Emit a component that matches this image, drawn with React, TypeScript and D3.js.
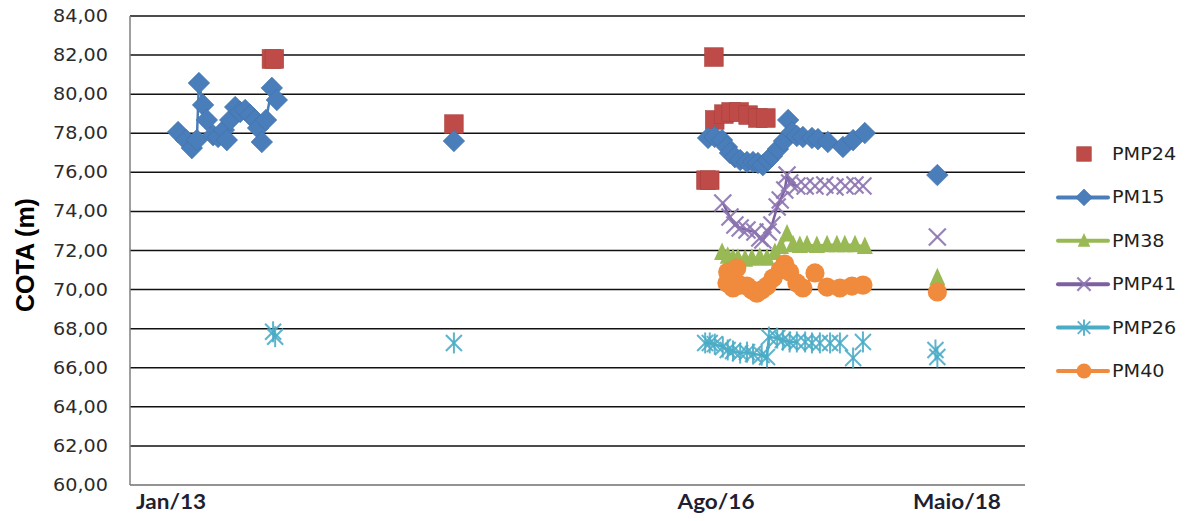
import React from 'react';
import * as d3 from 'd3';

// One reading: [date, elevation in metres]; null marks a blank row (breaks the line).
type Reading = [string, number] | null;

const X_TICK_DATES = ['2013-01-01', '2016-08-01', '2018-05-01'];
const X_TICK_LABELS = ['Jan/13', 'Ago/16', 'Maio/18'];
const Y_TICKS = [60, 62, 64, 66, 68, 70, 72, 74, 76, 78, 80, 82, 84];
const Y_TITLE = 'COTA (m)';

const PMP24: Reading[] = [
  ['2013-08-30', 81.8], null, ['2013-09-06', 81.8], null,
  ['2014-11-11', 78.47], null,
  ['2016-07-08', 75.6], null, ['2016-07-17', 75.6], null, ['2016-07-27', 81.9], null,
  ['2016-07-29', 78.68], null, ['2016-08-22', 78.98], null, ['2016-09-10', 79.09], null,
  ['2016-10-01', 79.09], null, ['2016-10-25', 78.93], null, ['2016-11-20', 78.78], null,
  ['2016-12-11', 78.78],
];

const PM15: Reading[] = [
  ['2013-01-18', 78.06], ['2013-02-06', 77.65], ['2013-02-20', 77.24], ['2013-03-04', 77.65],
  ['2013-03-09', 80.57], ['2013-03-19', 79.45], ['2013-03-28', 78.68], ['2013-04-12', 77.9],
  ['2013-04-24', 77.81], ['2013-05-08', 78.17], ['2013-05-15', 77.65], ['2013-05-23', 78.68],
  ['2013-06-04', 79.34], ['2013-06-16', 79.09], ['2013-06-28', 79.19], ['2013-07-10', 78.93],
  ['2013-07-22', 78.68], ['2013-07-29', 78.27], ['2013-08-07', 77.55], ['2013-08-17', 78.68],
  ['2013-08-31', 80.32], ['2013-09-12', 79.7],
  null,
  ['2014-11-11', 77.6],
  null,
  ['2016-07-13', 77.76], ['2016-07-29', 77.81], ['2016-08-17', 77.65], ['2016-08-30', 77.3],
  ['2016-09-07', 76.99], ['2016-09-20', 76.78], ['2016-10-04', 76.63], ['2016-10-22', 76.53],
  ['2016-11-07', 76.53], ['2016-11-20', 76.48], ['2016-12-03', 76.37], ['2016-12-17', 76.63],
  ['2016-12-27', 76.83], ['2017-01-12', 77.19], ['2017-01-28', 77.6], ['2017-02-08', 78.68],
  ['2017-02-18', 78.06], ['2017-03-03', 77.86], ['2017-03-19', 77.81], ['2017-04-12', 77.76],
  ['2017-04-28', 77.7], ['2017-05-24', 77.55], ['2017-07-03', 77.3], ['2017-07-30', 77.65],
  ['2017-08-30', 78.01],
  null,
  ['2018-03-10', 75.86],
];

const PM38: Reading[] = [
  ['2016-08-17', 71.9], ['2016-09-01', 71.7], ['2016-09-15', 71.6], ['2016-09-28', 71.6],
  ['2016-10-17', 71.55], ['2016-11-04', 71.6], ['2016-11-25', 71.65], ['2016-12-14', 71.6],
  ['2017-01-04', 71.9], ['2017-01-20', 72.2], ['2017-02-05', 72.84], ['2017-02-21', 72.3],
  ['2017-03-11', 72.25], ['2017-03-30', 72.3], ['2017-04-25', 72.25], ['2017-05-22', 72.3],
  ['2017-06-17', 72.3], ['2017-07-08', 72.3], ['2017-08-04', 72.3], ['2017-08-30', 72.2],
  null,
  ['2018-03-10', 70.6],
];

const PMP41: Reading[] = [
  ['2016-08-19', 74.43], ['2016-09-07', 73.71], ['2016-09-20', 73.3], ['2016-10-04', 73.15],
  ['2016-10-22', 73.05], ['2016-11-12', 72.95], ['2016-11-25', 72.64], ['2016-12-03', 72.54],
  ['2016-12-17', 72.95], ['2016-12-27', 73.3], ['2017-01-10', 74.23], ['2017-01-18', 74.58],
  ['2017-01-30', 75.1], ['2017-02-05', 75.86], ['2017-02-12', 75.45], ['2017-03-03', 75.3],
  null, ['2017-03-25', 75.3], null, ['2017-04-20', 75.3], null, ['2017-05-16', 75.35],
  null, ['2017-06-12', 75.25], null, ['2017-07-09', 75.3], null, ['2017-08-04', 75.35],
  null, ['2017-08-25', 75.3],
  null,
  ['2018-03-10', 72.69],
];

const PMP26: Reading[] = [
  ['2013-09-03', 67.84], ['2013-09-08', 67.59],
  null,
  ['2014-11-11', 67.27],
  null,
  ['2016-07-06', 67.27], ['2016-07-17', 67.27], ['2016-07-29', 67.21], ['2016-08-19', 67.06],
  ['2016-09-01', 66.91], ['2016-09-15', 66.86], ['2016-10-04', 66.75], ['2016-10-22', 66.8],
  ['2016-11-07', 66.7], ['2016-11-30', 66.65], ['2016-12-14', 66.55], ['2016-12-19', 67.57],
  ['2017-01-10', 67.52], ['2017-01-25', 67.42], ['2017-02-12', 67.32], ['2017-03-03', 67.32],
  null, ['2017-03-25', 67.32], null, ['2017-04-12', 67.27], null, ['2017-05-03', 67.27],
  null, ['2017-05-30', 67.27], null, ['2017-06-25', 67.27], null, ['2017-07-30', 66.5],
  null, ['2017-08-25', 67.32],
  null, ['2018-03-05', 66.91], null, ['2018-03-10', 66.55],
];

const PM40: Reading[] = [
  ['2016-08-30', 70.34], ['2016-09-01', 70.9], ['2016-09-15', 70.08], ['2016-09-25', 71.1],
  ['2016-10-04', 70.23], ['2016-10-22', 70.18], ['2016-11-04', 69.98], ['2016-11-17', 69.82],
  ['2016-11-30', 69.98], ['2016-12-14', 70.18], ['2016-12-30', 70.59], ['2017-01-18', 71.0],
  ['2017-01-30', 71.31], ['2017-02-12', 70.9], ['2017-03-03', 70.34], ['2017-03-19', 70.08],
  ['2017-04-20', 70.85], ['2017-05-22', 70.13], ['2017-06-25', 70.08], ['2017-07-27', 70.18],
  ['2017-08-25', 70.23],
  null,
  ['2018-03-10', 69.88],
];

type MarkerKind = 'square' | 'diamond' | 'triangle' | 'x' | 'star' | 'circle';

interface Series {
  name: string;
  data: Reading[];
  color: string;
  marker: MarkerKind;
  line: boolean;
}

const SERIES: Series[] = [
  { name: 'PMP24', data: PMP24, color: '#BE4B48', marker: 'square', line: false },
  { name: 'PM15', data: PM15, color: '#4A7EBB', marker: 'diamond', line: true },
  { name: 'PM38', data: PM38, color: '#98B954', marker: 'triangle', line: true },
  { name: 'PMP41', data: PMP41, color: '#7D60A0', marker: 'x', line: true },
  { name: 'PMP26', data: PMP26, color: '#4BACC6', marker: 'star', line: true },
  { name: 'PM40', data: PM40, color: '#F08A3C', marker: 'circle', line: true },
];

const W = 1196;
const H = 521;
const PLOT_LEFT = 130;
const PLOT_RIGHT = 1025;
const PLOT_TOP = 16;
const PLOT_BOTTOM = 485;
const TEXT_SX = 1.13; // labels are rendered slightly wide

const ptFormat = d3.formatLocale({
  decimal: ',',
  thousands: '.',
  grouping: [3],
  currency: ['R$', ''],
}).format('.2f');

function Marker({ kind, cx, cy, color, s = 1 }: { kind: MarkerKind; cx: number; cy: number; color: string; s?: number }) {
  switch (kind) {
    case 'square': {
      const h = 9.3 * s;
      return <rect x={cx - h} y={cy - h} width={2 * h} height={2 * h} fill={color} stroke="#A8403D" strokeWidth={0.6} />;
    }
    case 'diamond': {
      const h = 10.8 * s;
      return <path d={`M${cx},${cy - h}L${cx + h},${cy}L${cx},${cy + h}L${cx - h},${cy}Z`} fill={color} stroke="#3F70AA" strokeWidth={0.6} />;
    }
    case 'triangle': {
      const w = 8 * s;
      const t = 10 * s;
      const b = 7.5 * s;
      return <path d={`M${cx},${cy - t}L${cx + w},${cy + b}L${cx - w},${cy + b}Z`} fill={color} />;
    }
    case 'x': {
      const h = 8.5 * s;
      return (
        <g stroke="#8C74B0" strokeWidth={2.2} strokeOpacity={0.9}>
          <line x1={cx - h} y1={cy - h} x2={cx + h} y2={cy + h} />
          <line x1={cx - h} y1={cy + h} x2={cx + h} y2={cy - h} />
        </g>
      );
    }
    case 'star': {
      const h = 8 * s;
      const v = 10.5 * s;
      return (
        <g stroke={color} strokeWidth={2} strokeOpacity={0.9}>
          <line x1={cx - h} y1={cy - h} x2={cx + h} y2={cy + h} />
          <line x1={cx - h} y1={cy + h} x2={cx + h} y2={cy - h} />
          <line x1={cx} y1={cy - v} x2={cx} y2={cy + v} />
        </g>
      );
    }
    case 'circle':
    default:
      return <circle cx={cx} cy={cy} r={9.6 * s} fill={color} />;
  }
}

function WideText({ x, y, anchor, size, family, weight, fill, children }: {
  x: number; y: number; anchor: 'start' | 'middle' | 'end'; size: number; family: string;
  weight?: string | number; fill: string; children: React.ReactNode;
}) {
  return (
    <text
      transform={`translate(${x},${y}) scale(${TEXT_SX},1)`}
      textAnchor={anchor}
      fontSize={size}
      fontFamily={family}
      fontWeight={weight}
      fill={fill}
    >
      {children}
    </text>
  );
}

export default function App() {
  const parse = d3.timeParse('%Y-%m-%d');
  const x = d3
    .scaleTime()
    .domain(X_TICK_DATES.map((d) => parse(d) as Date))
    .range([171, 716, 957]);
  const y = d3.scaleLinear().domain([60, 84]).range([PLOT_BOTTOM, PLOT_TOP]);

  const line = d3
    .line<Reading>()
    .defined((d) => d !== null)
    .x((d) => x(parse((d as [string, number])[0]) as Date))
    .y((d) => y((d as [string, number])[1]));

  const tickFont = '"DejaVu Sans", Verdana, sans-serif';
  const legendX = 1058;
  const legendY0 = 154;
  const legendStep = 43.4;

  return (
    <svg width={W} height={H} style={{ position: 'absolute', left: 0, top: 0, background: '#fff' }}>
      <rect width={W} height={H} fill="#fff" />

      {/* horizontal gridlines */}
      {Y_TICKS.filter((t) => t > 60).map((t) => (
        <line key={t} x1={PLOT_LEFT} x2={PLOT_RIGHT} y1={y(t)} y2={y(t)} stroke="#111" strokeWidth={1.5} />
      ))}
      {/* axes */}
      <line x1={PLOT_LEFT} x2={PLOT_LEFT} y1={PLOT_TOP} y2={PLOT_BOTTOM} stroke="#7f7f7f" strokeWidth={1.5} />
      <line x1={PLOT_LEFT} x2={PLOT_RIGHT} y1={PLOT_BOTTOM} y2={PLOT_BOTTOM} stroke="#6f6f6f" strokeWidth={1.5} />

      {/* y tick labels */}
      {Y_TICKS.map((t) => (
        <WideText key={t} x={108} y={y(t) + 6} anchor="end" size={17} family={tickFont} fill="#2b2b2b">
          {ptFormat(t)}
        </WideText>
      ))}

      {/* x tick labels */}
      {X_TICK_DATES.map((d, i) => (
        <WideText key={d} x={x(parse(d) as Date)} y={509} anchor="middle" size={20} family="Lato, sans-serif" weight={700} fill="#1f1f33">
          {X_TICK_LABELS[i]}
        </WideText>
      ))}

      {/* y axis title */}
      <text
        transform={`translate(34,255) rotate(-90)`}
        textAnchor="middle"
        fontSize={25}
        fontWeight={700}
        fontFamily='"Liberation Sans", Arial, sans-serif'
        fill="#000"
      >
        {Y_TITLE}
      </text>

      {/* series */}
      {SERIES.map((s) => {
        const pts = s.data.filter((d): d is [string, number] => d !== null);
        return (
          <g key={s.name}>
            {s.line && (
              <path d={line(s.data) ?? ''} fill="none" stroke={s.color} strokeWidth={2.5} strokeLinejoin="round" />
            )}
            {pts.map((d, i) => (
              <Marker key={i} kind={s.marker} cx={x(parse(d[0]) as Date)} cy={y(d[1])} color={s.color} />
            ))}
          </g>
        );
      })}

      {/* legend */}
      {SERIES.map((s, i) => {
        const ly = legendY0 + i * legendStep;
        return (
          <g key={s.name}>
            {s.line && (
              <line x1={legendX} x2={legendX + 50} y1={ly} y2={ly} stroke={s.color} strokeWidth={4} strokeLinecap="round" />
            )}
            <Marker kind={s.marker} cx={legendX + 26} cy={ly} color={s.color} s={0.78} />
            <WideText x={legendX + 54} y={ly + 6} anchor="start" size={17} family={tickFont} fill="#1f1f1f">
              {s.name}
            </WideText>
          </g>
        );
      })}
    </svg>
  );
}
